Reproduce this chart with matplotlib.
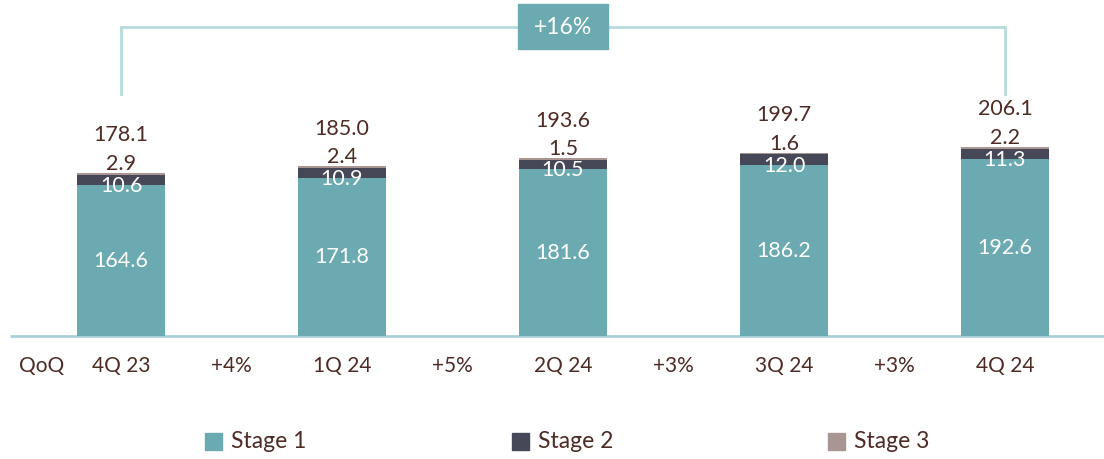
import matplotlib
matplotlib.use("Agg")
import matplotlib.pyplot as plt
from matplotlib.patches import Rectangle

quarters = ["4Q 23", "1Q 24", "2Q 24", "3Q 24", "4Q 24"]
stage1 = [164.6, 171.8, 181.6, 186.2, 192.6]
stage2 = [10.6, 10.9, 10.5, 12.0, 11.3]
stage3 = [2.9, 2.4, 1.5, 1.6, 2.2]
totals = [178.1, 185.0, 193.6, 199.7, 206.1]
qoq = ["+4%", "+5%", "+3%", "+3%"]
growth_label = "+16%"
legend_labels = ["Stage 1", "Stage 2", "Stage 3"]

C1 = "#6caab1"
C2 = "#474857"
C3 = "#a99591"
TXT = "#4e2b25"
LINE = "#a9d1d5"

plt.rcParams['font.family'] = ['Lato', 'DejaVu Sans']

W, H = 1104, 459
fig = plt.figure(figsize=(W / 100, H / 100), dpi=100)
base_px = 336
k = 0.917  # px per unit
ax = fig.add_axes([0, (H - base_px) / H, 1, base_px / H])
ax.set_xlim(-121 / 221, (W - 121) / 221)
ax.set_ylim(0, base_px / k)
ax.axis("off")

x = list(range(len(quarters)))
bw = 88 / 221
b2 = [a for a in stage1]
b3 = [a + b for a, b in zip(stage1, stage2)]
ax.bar(x, stage1, width=bw, color=C1, zorder=2)
ax.bar(x, stage2, width=bw, bottom=b2, color=C2, zorder=2)
ax.bar(x, stage3, width=bw, bottom=b3, color=C3, zorder=2)

fs = 15.5
for i in x:
    top = stage1[i] + stage2[i] + stage3[i]
    ax.text(i, stage1[i] / 2, f"{stage1[i]:.1f}", ha="center", va="center",
            color="white", fontsize=fs, zorder=3)
    ax.text(i, stage1[i] - 1, f"{stage2[i]:.1f}", ha="center", va="center",
            color="white", fontsize=fs, zorder=3)
    ax.text(i, top + 10, f"{stage3[i]:.1f}", ha="center", va="center",
            color=TXT, fontsize=fs, zorder=3)
    ax.text(i, top + 41, f"{totals[i]:.1f}", ha="center", va="center",
            color=TXT, fontsize=fs, zorder=3)

# baseline
ax.plot([(10 - 121) / 221, (W - 121) / 221], [0, 0], color=LINE, lw=2,
        zorder=1, clip_on=False, solid_capstyle="butt")

# x labels
ylab = -(366 - base_px) / k
tfs = 15
ax.text((42 - 121) / 221, ylab, "QoQ", ha="center", va="center", color=TXT,
        fontsize=tfs, clip_on=False)
for i, q in enumerate(quarters):
    ax.text(i, ylab, q, ha="center", va="center", color=TXT, fontsize=tfs,
            clip_on=False)
for i, g in enumerate(qoq):
    ax.text(i + 0.5, ylab, g, ha="center", va="center", color=TXT,
            fontsize=tfs, clip_on=False)

# bracket
yb = (base_px - 27) / k
yv = (base_px - 94) / k
ax.plot([0, 0, 4, 4], [yv, yb, yb, yv], color="#b7dadd", lw=2, zorder=1,
        clip_on=False, solid_joinstyle="miter")
bx_w = 90 / 221
bx_h = 45 / k
ax.add_patch(Rectangle((2 - bx_w / 2, yb - bx_h / 2), bx_w, bx_h, color=C1,
                       zorder=4, clip_on=False))
ax.text(2, yb, growth_label, ha="center", va="center", color="white",
        fontsize=16.5, zorder=5, clip_on=False)

# legend
for px, lab, c in zip([205, 512, 828], legend_labels, [C1, C2, C3]):
    fig.add_artist(Rectangle((px / W, (H - 450) / H), 17 / W, 17 / H,
                             color=c, transform=fig.transFigure))
    fig.text((px + 26) / W, (H - 441) / H, lab, ha="left", va="center",
             color=TXT, fontsize=16.5)

fig.savefig("out.png", dpi=100)
